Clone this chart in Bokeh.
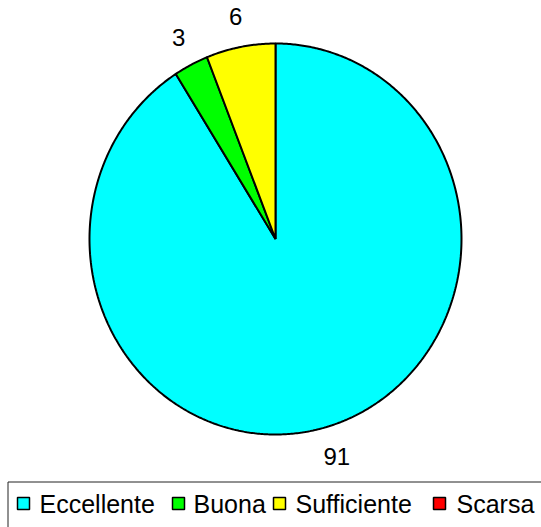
import numpy as np
from bokeh.plotting import figure
from bokeh.models import Range1d
from bokeh.core.properties import value
from bokeh.embed import file_html
from bokeh.resources import INLINE

# ---- data ----
categories = ["Eccellente", "Buona", "Sufficiente", "Scarsa"]
values = [91, 3, 6, 0]
colors = ["#00FFFF", "#00FF00", "#FFFF00", "#FF0000"]

# ---- layout (picture pixel coordinates) ----
W, H = 541, 527
cx, cy, rx, ry = 275, 238.5, 186, 195.5
label_factor = 1.11
digit_w, label_h = 13.2, 18
legend_swatch_x = [17, 172, 273, 433]
legend_text_x = [39, 193, 295, 456]
FONT = "Liberation Sans"

p = figure(width=W, height=H, x_range=Range1d(0, W), y_range=Range1d(H, 0),
           output_backend="svg", toolbar_location=None, min_border=0)
p.axis.visible = False
p.grid.visible = False
p.outline_line_color = None
p.background_fill_color = "white"
p.border_fill_color = "white"

total = sum(values)
start = 0.0
xs, ys, fc = [], [], []
lx, ly, lt = [], [], []
for v, c in zip(values, colors):
    frac = v / total
    end = start + frac * 2 * np.pi
    if v > 0:
        n = max(int(frac * 720), 2)
        th = np.linspace(start, end, n)
        xs.append([cx] + list(cx + rx * np.sin(th)))
        ys.append([cy] + list(cy - ry * np.cos(th)))
        fc.append(c)
        mid = (start + end) / 2
        s, co = np.sin(mid), np.cos(mid)
        txt = str(v)
        w = digit_w * len(txt)
        lx.append(cx + label_factor * rx * s + 0.5 * w * s)
        ly.append(cy - label_factor * ry * co - 0.5 * label_h * co)
        lt.append(txt)
    start = end

p.patches(xs, ys, fill_color=fc, line_color="black", line_width=2)
p.text(lx, ly, text=lt, text_font=value(FONT), text_font_size="24px",
       text_align="center", text_baseline="middle", text_color="black")

# ---- legend ----
p.quad(left=[7.5], right=[560], top=[481.5], bottom=[540], fill_color=None,
       line_color="#222222", line_width=1)
p.quad(left=legend_swatch_x, right=[x + 12 for x in legend_swatch_x],
       top=[497] * 4, bottom=[509] * 4, fill_color=colors,
       line_color="black", line_width=1.5)
p.text(legend_text_x, [503.5] * 4, text=categories, text_font=value(FONT),
       text_font_size="25px", text_align="left", text_baseline="middle",
       text_color="black")

open("out.html", "w").write(file_html(p, INLINE))
